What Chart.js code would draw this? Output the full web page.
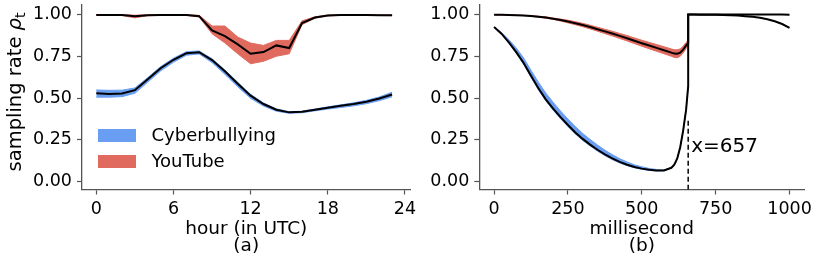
<!DOCTYPE html>
<html>
<head>
<meta charset="utf-8">
<script src="https://cdn.jsdelivr.net/npm/chart.js@4.4.0/dist/chart.umd.min.js"></script>
<style>
  body { margin: 0; background: #fff; width: 822px; height: 261px; overflow: hidden; font-family: "DejaVu Sans", sans-serif; }
  #wrapA { position: absolute; left: 0; top: 0; width: 440px; height: 261px; }
  #wrapB { position: absolute; left: 411px; top: 0; width: 411px; height: 261px; }
  .legend { position: absolute; left: 98px; top: 125.5px; font-size: 18px; color: #000; }
  .legend .item { position: relative; height: 26.5px; line-height: 18px; }
  .legend .swatch { position: absolute; left: 0; top: 3px; width: 38px; height: 13px; }
  .legend .label { position: absolute; left: 53.5px; top: 0; white-space: nowrap; }
</style>
</head>
<body>
<div id="wrapA"><canvas id="chartA" width="440" height="261"></canvas></div>
<div id="wrapB"><canvas id="chartB" width="411" height="261"></canvas></div>
<div class="legend">
  <div class="item"><span class="swatch" style="background:#6a9ef2"></span><span class="label">Cyberbullying</span></div>
  <div class="item"><span class="swatch" style="background:#e06a5e"></span><span class="label">YouTube</span></div>
</div>
<script>
const BLUE = "#6a9ef2"
const RED = "#e06a5e"
const AXIS = "#555"
const FONT = "DejaVu Sans"

// (a) hourly sampling rate
const hours = [0,1,2,3,4,5,6,7,8,9,10,11,12,13,14,15,16,17,18,19,20,21,22,23]
const hourTicks = [0, 6, 12, 18, 24]
const cbMeanA = [0.528,0.524,0.527,0.547,0.612,0.678,0.729,0.768,0.774,0.727,0.660,0.585,0.514,0.464,0.430,0.414,0.418,0.430,0.442,0.453,0.464,0.478,0.497,0.521]
const cbLowA  = [0.505,0.505,0.508,0.528,0.595,0.662,0.714,0.756,0.764,0.712,0.642,0.567,0.498,0.452,0.421,0.408,0.412,0.423,0.434,0.443,0.453,0.466,0.484,0.507]
const cbHighA = [0.548,0.546,0.547,0.560,0.622,0.688,0.738,0.777,0.782,0.735,0.668,0.594,0.522,0.470,0.435,0.418,0.421,0.434,0.447,0.459,0.471,0.486,0.506,0.535]
const ytMeanA = [0.997,0.997,0.997,0.990,0.996,0.997,0.997,0.997,0.990,0.905,0.871,0.821,0.765,0.775,0.815,0.799,0.949,0.982,0.994,0.997,0.997,0.997,0.996,0.995]
const ytLowA  = [0.995,0.995,0.994,0.980,0.993,0.995,0.995,0.995,0.985,0.885,0.830,0.765,0.705,0.720,0.750,0.765,0.940,0.978,0.992,0.995,0.995,0.995,0.994,0.993]
const ytHighA = [0.999,0.999,0.999,0.996,0.999,0.999,0.999,0.999,0.995,0.931,0.931,0.865,0.829,0.815,0.845,0.845,0.962,0.986,0.997,0.999,0.999,0.999,0.998,0.997]

// (b) per-millisecond sampling rate, before and after the switch at x=657
const msPre  = [0,25,50,75,100,125,150,175,200,225,250,275,300,325,350,375,400,425,450,475,500,525,550,575,600,610,620,630,640,650,657]
const msPost = [657,675,700,725,750,775,800,825,850,875,900,925,950,975,1000]
const msTicks = [0, 250, 500, 750, 1000]
const cbMeanPre  = [0.925,0.885,0.833,0.775,0.710,0.633,0.558,0.492,0.436,0.385,0.338,0.294,0.255,0.221,0.190,0.162,0.138,0.117,0.100,0.087,0.077,0.070,0.066,0.066,0.082,0.100,0.138,0.205,0.305,0.430,0.570]
const cbLowPre   = [0.925,0.882,0.828,0.768,0.702,0.624,0.549,0.483,0.427,0.376,0.329,0.285,0.246,0.213,0.182,0.155,0.131,0.111,0.095,0.082,0.073,0.066,0.063,0.065,0.082,0.100,0.138,0.205,0.305,0.430,0.570]
const cbHighPre  = [0.925,0.893,0.850,0.800,0.740,0.666,0.595,0.530,0.474,0.422,0.374,0.329,0.288,0.252,0.219,0.188,0.161,0.137,0.117,0.100,0.088,0.078,0.072,0.069,0.082,0.100,0.138,0.205,0.305,0.430,0.570]
const cbMeanPost = [1.000,1.000,0.999,0.999,0.998,0.997,0.996,0.994,0.990,0.986,0.980,0.972,0.960,0.943,0.920]
const ytMeanPre  = [0.998,0.998,0.997,0.996,0.994,0.991,0.987,0.982,0.975,0.967,0.958,0.948,0.937,0.925,0.912,0.899,0.886,0.872,0.858,0.843,0.828,0.814,0.800,0.786,0.772,0.766,0.765,0.772,0.790,0.815,0.830]
const ytLowPre   = [0.998,0.998,0.997,0.996,0.993,0.989,0.984,0.978,0.971,0.961,0.950,0.939,0.927,0.914,0.900,0.886,0.872,0.857,0.842,0.826,0.810,0.795,0.780,0.765,0.750,0.743,0.741,0.750,0.770,0.797,0.815]
const ytHighPre  = [0.998,0.998,0.997,0.996,0.995,0.993,0.990,0.986,0.979,0.973,0.966,0.957,0.947,0.936,0.924,0.912,0.900,0.887,0.874,0.860,0.846,0.833,0.820,0.807,0.794,0.789,0.789,0.794,0.810,0.833,0.845]
const ytMeanPost = [1.000,1.000,1.000,1.000,1.000,1.000,1.000,1.000,1.000,1.000,1.000,1.000,1.000,1.000,0.999]
const switchX = [657, 657]
const switchY = [-0.05, 0.38]

const yTicks = [0, 0.25, 0.5, 0.75, 1]

const toPoints = (xs, ys) => xs.map((x, i) => ({ x, y: ys[i] }))

const meanLine = (data) => ({ data, borderColor: "#000", borderWidth: 2, pointRadius: 0, fill: false, tension: 0 })
const bandEdge = (data, color) => ({ data, borderColor: color, borderWidth: 1, pointRadius: 0, fill: false, tension: 0 })
const bandTop = (data, color) => ({ data, borderColor: color, borderWidth: 1, pointRadius: 0, backgroundColor: color, fill: "-1", tension: 0 })

function xScale(min, max, ticks, title) {
  return {
    type: "linear",
    min, max,
    afterBuildTicks: s => { s.ticks = ticks.map(v => ({ value: v })) },
    afterFit: s => { s.height = 71.5; s.paddingLeft = 0; s.paddingRight = 0 },
    grid: { drawOnChartArea: false, drawTicks: true, tickLength: 5, tickColor: AXIS, tickWidth: 1.2 },
    border: { display: true, color: AXIS, width: 1.3 },
    ticks: { font: { family: FONT, size: 17.5 }, color: "#000", padding: 4.5, maxRotation: 0, callback: v => String(v) },
    title: { display: true, text: title, font: { family: FONT, size: 18.5, lineHeight: 0.92 }, color: "#000", padding: { top: 0, bottom: 6.5 } }
  }
}

function yScale(width) {
  return {
    type: "linear",
    min: -0.048, max: 1.057,
    afterBuildTicks: s => { s.ticks = yTicks.map(v => ({ value: v })) },
    afterFit: s => { s.width = width; s.paddingTop = 0; s.paddingBottom = 0 },
    grid: { drawOnChartArea: false, drawTicks: true, tickLength: 5, tickColor: AXIS, tickWidth: 1.2 },
    border: { display: true, color: AXIS, width: 1.3 },
    ticks: { font: { family: FONT, size: 17.5 }, color: "#000", padding: 5, callback: v => v.toFixed(2) }
  }
}

const yLabelPlugin = {
  id: "yLabel",
  afterDraw(chart) {
    const ctx = chart.ctx
    const main = "sampling rate "
    ctx.save()
    ctx.font = `19.5px "${FONT}"`
    const w1 = ctx.measureText(main).width
    ctx.font = `italic 19.5px "${FONT}"`
    const w2 = ctx.measureText("ρ").width
    ctx.font = `14px "${FONT}"`
    const w3 = ctx.measureText("t").width
    const total = w1 + w2 + w3
    ctx.translate(16, 92)
    ctx.rotate(-Math.PI / 2)
    ctx.fillStyle = "#000"
    ctx.textBaseline = "middle"
    ctx.textAlign = "left"
    let x = -total / 2
    ctx.font = `19.5px "${FONT}"`
    ctx.fillText(main, x, 0)
    x += w1
    ctx.font = `italic 19.5px "${FONT}"`
    ctx.fillText("ρ", x, 0)
    x += w2
    ctx.font = `14px "${FONT}"`
    ctx.fillText("t", x, 5)
    ctx.restore()
  }
}

const switchLabelPlugin = {
  id: "switchLabel",
  afterDraw(chart) {
    const { ctx, scales } = chart
    ctx.save()
    ctx.font = `20px "${FONT}"`
    ctx.fillStyle = "#000"
    ctx.textBaseline = "middle"
    ctx.textAlign = "left"
    ctx.fillText("x=657", scales.x.getPixelForValue(657) + 3, scales.y.getPixelForValue(0.21))
    ctx.restore()
  }
}

const common = {
  responsive: false,
  animation: false,
  events: [],
  plugins: { legend: { display: false }, tooltip: { enabled: false } }
}

new Chart(document.getElementById("chartA"), {
  type: "line",
  data: {
    datasets: [
      meanLine(toPoints(hours, ytMeanA)),
      meanLine(toPoints(hours, cbMeanA)),
      bandEdge(toPoints(hours, ytLowA), RED),
      bandTop(toPoints(hours, ytHighA), RED),
      bandEdge(toPoints(hours, cbLowA), BLUE),
      bandTop(toPoints(hours, cbHighA), BLUE)
    ]
  },
  options: {
    ...common,
    layout: { padding: { left: 0, right: 29.5, top: 5, bottom: 0 } },
    scales: {
      x: xScale(-1.11, 24.43, hourTicks, ["hour (in UTC)", "(a)"]),
      y: yScale(82)
    }
  },
  plugins: [yLabelPlugin]
})

new Chart(document.getElementById("chartB"), {
  type: "line",
  data: {
    datasets: [
      { data: toPoints(switchX, switchY), borderColor: "#000", borderWidth: 1.5, borderDash: [5, 3], pointRadius: 0, fill: false },
      meanLine(toPoints(msPre.concat(msPost), ytMeanPre.concat(ytMeanPost))),
      meanLine(toPoints(msPre.concat(msPost), cbMeanPre.concat(cbMeanPost))),
      bandEdge(toPoints(msPre, ytLowPre), RED),
      bandTop(toPoints(msPre, ytHighPre), RED),
      bandEdge(toPoints(msPre, cbLowPre), BLUE),
      bandTop(toPoints(msPre, cbHighPre), BLUE)
    ]
  },
  options: {
    ...common,
    layout: { padding: { left: 0, right: 17.7, top: 5, bottom: 0 } },
    scales: {
      x: xScale(-50, 1050, msTicks, ["millisecond", "(b)"]),
      y: yScale(68.3)
    }
  },
  plugins: [switchLabelPlugin]
})
</script>
</body>
</html>
